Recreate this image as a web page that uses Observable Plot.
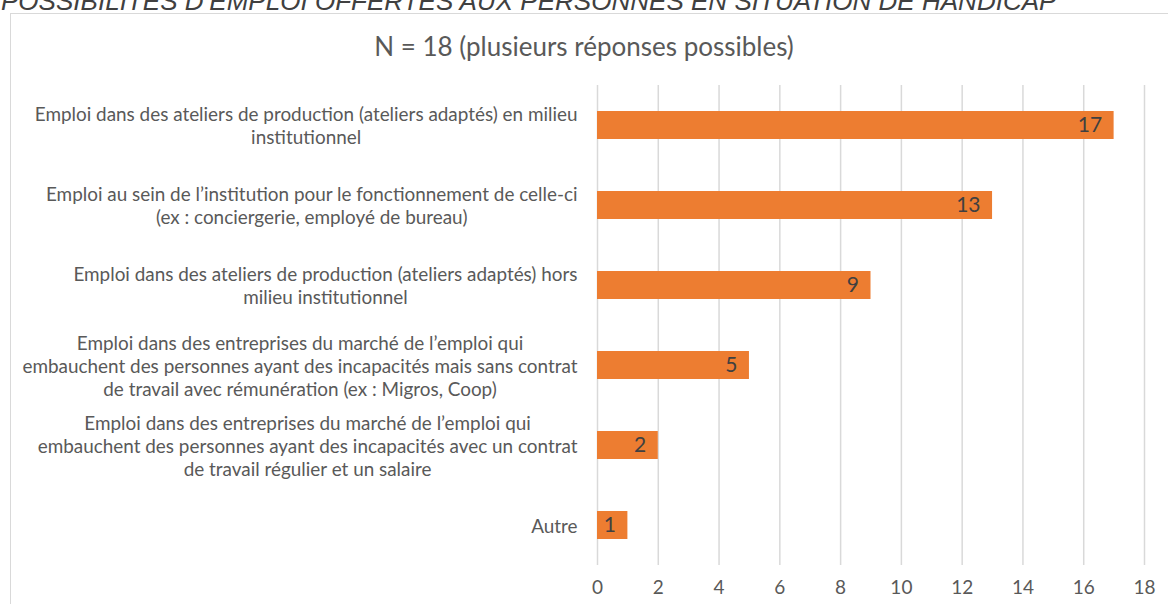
<!DOCTYPE html>
<html><head><meta charset="utf-8">
<script src="https://cdn.jsdelivr.net/npm/d3@7"></script>
<script src="https://cdn.jsdelivr.net/npm/@observablehq/plot@0.6"></script>
<style>
html,body{margin:0;padding:0;background:#fff;overflow:hidden;width:1168px;height:604px;}
#title{position:absolute;left:1px;top:-9px;font:italic 22px "Liberation Sans",Arial,sans-serif;line-height:1;color:#404040;white-space:nowrap;}
#frame{position:absolute;left:10px;top:13px;width:1200px;height:700px;border:1.5px solid #d9d9d9;box-sizing:border-box;}
#subtitle{position:absolute;left:0;top:33px;width:1168px;text-align:center;font:26px Lato,sans-serif;color:#595959;line-height:1;}
#chart{position:absolute;left:0;top:70px;}
</style></head>
<body>
<div id="title"></div>
<div id="frame"></div>
<div id="subtitle"></div>
<div id="chart"></div>
<script>
const titleText = "POSSIBILITÉS D’EMPLOI OFFERTES AUX PERSONNES EN SITUATION DE HANDICAP";
const subtitleText = "N = 18 (plusieurs réponses possibles)";
const categories = [
  "Emploi dans des ateliers de production (ateliers adaptés) en milieu\ninstitutionnel",
  "Emploi au sein de l’institution pour le fonctionnement de celle-ci\n(ex : conciergerie, employé de bureau)",
  "Emploi dans des ateliers de production (ateliers adaptés) hors\nmilieu institutionnel",
  "Emploi dans des entreprises du marché de l’emploi qui\nembauchent des personnes ayant des incapacités mais sans contrat\nde travail avec rémunération (ex : Migros, Coop)",
  "Emploi dans des entreprises du marché de l’emploi qui\nembauchent des personnes ayant des incapacités avec un contrat\nde travail régulier et un salaire",
  "Autre"
];
const values = [17, 13, 9, 5, 2, 1];
const xTicks = [0, 2, 4, 6, 8, 10, 12, 14, 16, 18];

document.getElementById("title").textContent = titleText;
document.getElementById("subtitle").textContent = subtitleText;

const data = categories.map((c, i) => ({category: c, value: values[i]}));

const chart = Plot.plot({
  width: 1168,
  height: 534,
  marginLeft: 597,
  marginRight: 24,
  marginTop: 15,
  marginBottom: 39,
  style: {fontFamily: "Lato, sans-serif", background: "transparent", color: "#595959"},
  x: {domain: [0, 18], axis: null},
  y: {domain: categories, paddingInner: 0.65, paddingOuter: 0.325, axis: null},
  marks: [
    Plot.ruleX(xTicks, {stroke: "#d9d9d9", strokeWidth: 1.5}),
    Plot.barX(data, {x: "value", y: "category", fill: "#ED7D31"}),
    Plot.text(data, {x: "value", y: "category", text: d => String(d.value), textAnchor: "end", dx: -12, fill: "#404040", fontSize: 21}),
    Plot.text(data, {y: "category", text: "category", frameAnchor: "left", textAnchor: "middle", lineAnchor: "middle", lineHeight: 1.22, fontSize: 18.9, fill: "#595959"}),
    Plot.axisX({ticks: xTicks, tickSize: 0, tickPadding: 15, fontSize: 19, fill: "#595959", label: null, tickFormat: d => String(d)})
  ]
});
document.getElementById("chart").append(chart);

function adjust() {
  const g = chart.querySelector('g[aria-label="text"][fill="#595959"]');
  if (g) g.querySelectorAll("text").forEach(t => {
    const tsp = t.querySelectorAll("tspan");
    let w = 0;
    if (tsp.length) tsp.forEach(s => { w = Math.max(w, s.getComputedTextLength()); });
    else w = t.getComputedTextLength();
    if (t.dataset.base === undefined) t.dataset.base = t.getAttribute("transform") || "";
    t.setAttribute("transform", t.dataset.base + ` translate(${-(20 + w / 2)},0)`);
  });
  const title = document.getElementById("title");
  title.style.fontSize = "22px";
  const tw = title.getBoundingClientRect().width;
  if (tw > 0) {
    const fs = 22 * 1056 / tw;
    title.style.fontSize = fs + "px";
    title.style.top = (10.5 - 0.8465 * fs) + "px";
  }
}
adjust();
if (document.fonts && document.fonts.ready) document.fonts.ready.then(adjust);
</script>
</body></html>
